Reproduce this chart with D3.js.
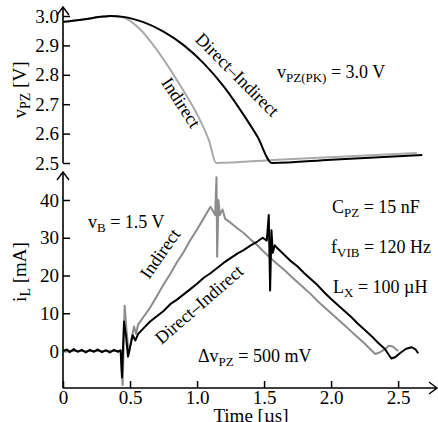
<!DOCTYPE html>
<html>
<head>
<meta charset="utf-8">
<title>vPZ and iL</title>
<style>
  body { margin: 0; background: #fff; }
  svg text { font-family: "Times New Roman", "Liberation Serif", "DejaVu Serif", serif; fill: #000; }
</style>
</head>
<body>
<script src="https://cdn.jsdelivr.net/npm/d3@7"></script>
<script>
// top panel: vPZ [V]
var vTimeDI = [0, 0.15, 0.3, 0.35, 0.45, 0.6, 0.75, 0.9, 1.05, 1.2, 1.35, 1.45, 1.56, 2.0, 2.68];
var vDirectIndirect = [2.980, 2.988, 2.998, 3.000, 2.997, 2.979, 2.947, 2.901, 2.839, 2.760, 2.662, 2.590, 2.500, 2.511, 2.527];
var vTimeI = [0, 0.15, 0.3, 0.35, 0.45, 0.575, 0.7, 0.873, 1.022, 1.09, 1.142, 1.6, 2.64];
var vIndirect = [2.980, 2.988, 2.998, 3.000, 2.995, 2.955, 2.885, 2.765, 2.646, 2.575, 2.500, 2.511, 2.534];
var vTicks = [2.5, 2.6, 2.7, 2.8, 2.9, 3.0];

// bottom panel: iL [mA]
var iTimeDI = [0, 0.03, 0.05, 0.08, 0.11, 0.14, 0.17, 0.2, 0.23, 0.26, 0.29, 0.32, 0.35, 0.38, 0.41, 0.43,
  0.44, 0.455, 0.47, 0.485, 0.5, 0.52, 0.54, 0.56, 0.6, 0.65, 0.7, 0.75, 0.8, 0.85, 0.9, 0.95, 1.0,
  1.05, 1.1, 1.15, 1.2, 1.25, 1.3, 1.35, 1.4, 1.45, 1.49, 1.52, 1.535, 1.545, 1.555, 1.565, 1.58,
  1.6, 1.65, 1.7, 1.75, 1.8, 1.85, 1.9, 1.95, 2.0, 2.05, 2.1, 2.15, 2.2, 2.25, 2.3, 2.35, 2.4,
  2.43, 2.45, 2.48, 2.52, 2.56, 2.6, 2.63, 2.65];
var iDirectIndirect = [0, 0.4, -0.3, 0.5, -0.2, 0.3, -0.4, 0.3, -0.2, 0.4, -0.3, 0.2, -0.4, 0.3, -0.2, 0.2,
  -7.0, 7.8, 4.0, -1.5, 1.0, 4.2, 2.8, 4.5, 6.0, 7.8, 9.2, 10.6, 12.4, 13.6, 15.0, 16.4, 17.8,
  19.4, 20.6, 22.0, 23.4, 24.6, 25.8, 26.8, 28.0, 29.0, 30.0, 29.2, 36.0, 16.0, 32.0, 26.0, 28.0,
  27.2, 25.5, 23.8, 22.4, 20.6, 19.0, 17.4, 15.5, 13.8, 12.2, 10.6, 9.0, 7.2, 5.6, 4.0, 2.2, 0.6,
  -1.0, -2.0, -1.6, -0.4, 0.6, 1.0, 0.4, -0.6];
var iTimeI = [0, 0.2, 0.43, 0.445, 0.46, 0.475, 0.49, 0.51, 0.53, 0.545, 0.56, 0.6, 0.65, 0.7, 0.75,
  0.8, 0.85, 0.9, 0.95, 1.0, 1.05, 1.1, 1.12, 1.135, 1.145, 1.15, 1.16, 1.17, 1.19, 1.21, 1.25,
  1.3, 1.35, 1.4, 1.45, 1.5, 1.55, 1.6, 1.65, 1.7, 1.75, 1.8, 1.85, 1.9, 1.95, 2.0, 2.05, 2.1,
  2.15, 2.2, 2.25, 2.3, 2.33, 2.36, 2.4, 2.43, 2.46, 2.5];
var iIndirect = [0, 0, 0, -9.0, 12.0, 5.0, -1.0, 3.0, 6.5, 4.5, 7.0, 9.0, 11.5, 14.5, 17.6,
  20.4, 23.5, 26.2, 29.4, 32.2, 35.2, 38.2, 37.0, 36.0, 46.0, 25.0, 40.0, 36.0, 37.5, 35.0, 34.0,
  32.5, 31.2, 29.5, 28.0, 26.2, 24.6, 23.0, 21.5, 19.8, 18.2, 16.6, 15.0, 13.2, 11.6, 10.0, 8.4, 6.8,
  5.2, 3.6, 2.0, 0.2, -0.8, -0.4, 0.4, 1.4, 1.2, 0.0];
var iTicks = [0, 10, 20, 30, 40];
var tTicks = [0, 0.5, 1.0, 1.5, 2.0, 2.5];

var width = 438, height = 422;
var serif = '"Times New Roman", "Liberation Serif", "DejaVu Serif", serif';
var svg = d3.select("body").append("svg")
  .attr("width", width).attr("height", height)
  .attr("font-family", serif);

var x = d3.scaleLinear().domain([0, 2.79]).range([63, 437]);
var yV = d3.scaleLinear().domain([2.5, 3.0]).range([163, 16]);
var yI = d3.scaleLinear().domain([0, 40]).range([351, 200]);

// axes
var gV = svg.append("g").attr("transform", "translate(63,0)")
  .call(d3.axisLeft(yV).tickValues(vTicks).tickFormat(d3.format(".1f")).tickSize(-7).tickPadding(4));
var gI = svg.append("g").attr("transform", "translate(63,0)")
  .call(d3.axisLeft(yI).tickValues(iTicks).tickFormat(d3.format("d")).tickSize(-7).tickPadding(4));
var gT = svg.append("g").attr("transform", "translate(0,388)")
  .call(d3.axisBottom(x).tickValues(tTicks).tickFormat(function(d){ return d === 0 ? "0" : d3.format(".1f")(d); }).tickSize(-7).tickPadding(2));
[gV, gI, gT].forEach(function(g){
  g.attr("font-family", serif).attr("font-size", 19);
  g.select(".domain").remove();
  g.selectAll(".tick line").attr("stroke", "#000").attr("stroke-width", 1.5);
  g.selectAll(".tick text").attr("fill", "#000");
});

// axis lines with open arrows
var axisPath = function(d){ return d3.line()(d); };
svg.append("path").attr("d", axisPath([[63, 163], [63, 7]])).attr("stroke", "#000").attr("stroke-width", 1.6).attr("fill", "none");
svg.append("path").attr("d", axisPath([[57, 15], [63, 7], [69, 15]])).attr("stroke", "#000").attr("stroke-width", 1.4).attr("fill", "none");
svg.append("path").attr("d", axisPath([[63, 388], [63, 172]])).attr("stroke", "#000").attr("stroke-width", 1.6).attr("fill", "none");
svg.append("path").attr("d", axisPath([[57, 180], [63, 172], [69, 180]])).attr("stroke", "#000").attr("stroke-width", 1.4).attr("fill", "none");
svg.append("path").attr("d", axisPath([[63, 388], [437, 388]])).attr("stroke", "#000").attr("stroke-width", 1.6).attr("fill", "none");
svg.append("path").attr("d", axisPath([[429, 382], [437, 388], [429, 394]])).attr("stroke", "#000").attr("stroke-width", 1.4).attr("fill", "none");

// curves
var lineV = d3.line().x(function(d){ return x(d[0]); }).y(function(d){ return yV(d[1]); }).curve(d3.curveMonotoneX);
var lineI = d3.line().x(function(d){ return x(d[0]); }).y(function(d){ return yI(d[1]); });

svg.append("path").datum(d3.zip(vTimeI, vIndirect)).attr("d", lineV)
  .attr("fill", "none").attr("stroke", "#aaa").attr("stroke-width", 2);
svg.append("path").datum(d3.zip(vTimeDI, vDirectIndirect)).attr("d", lineV)
  .attr("fill", "none").attr("stroke", "#000").attr("stroke-width", 2);
svg.append("path").datum(d3.zip(iTimeI, iIndirect)).attr("d", lineI)
  .attr("fill", "none").attr("stroke", "#8c8c8c").attr("stroke-width", 2).attr("stroke-linejoin", "round");
svg.append("path").datum(d3.zip(iTimeDI, iDirectIndirect)).attr("d", lineI)
  .attr("fill", "none").attr("stroke", "#000").attr("stroke-width", 2).attr("stroke-linejoin", "round");

// labels: parts are plain strings, or ["sub"] arrays for subscripts
function label(xp, yp, parts, opts) {
  opts = opts || {};
  var fs = opts.size || 18;
  var t = svg.append("text").attr("font-size", fs).attr("font-family", serif)
    .attr("text-anchor", opts.anchor || "start")
    .attr("transform", "translate(" + xp + "," + yp + ")" + (opts.rot ? " rotate(" + opts.rot + ")" : ""));
  var shifted = false;
  parts.forEach(function(p){
    if (Array.isArray(p)) {
      t.append("tspan").attr("font-size", Math.round(fs * 0.72)).attr("dy", 4).text(p[0]);
      shifted = true;
    } else {
      t.append("tspan").attr("dy", shifted ? -4 : 0).text(p);
      shifted = false;
    }
  });
  return t;
}

label(26, 90, ["v", ["PZ"], " [V]"], {anchor: "middle", rot: -90, size: 19});
label(26, 272, ["i", ["L"], " [mA]"], {anchor: "middle", rot: -90, size: 19});
label(251, 422, ["Time [µs]"], {anchor: "middle", size: 19});

label(277, 78, ["v", ["PZ(PK)"], " = 3.0 V"]);
label(332, 213, ["C", ["PZ"], " = 15 nF"]);
label(331, 253, ["f", ["VIB"], " = 120 Hz"]);
label(333, 293, ["L", ["X"], " = 100 µH"]);
label(88, 228, ["v", ["B"], " = 1.5 V"]);
label(198, 362, ["Δv", ["PZ"], " = 500 mV"]);

label(233, 79, ["Direct–Indirect"], {anchor: "middle", rot: 45});
label(176, 106, ["Indirect"], {anchor: "middle", rot: 57});
label(165, 257, ["Indirect"], {anchor: "middle", rot: -55});
label(203, 309, ["Direct–Indirect"], {anchor: "middle", rot: -41});
</script>
</body>
</html>
